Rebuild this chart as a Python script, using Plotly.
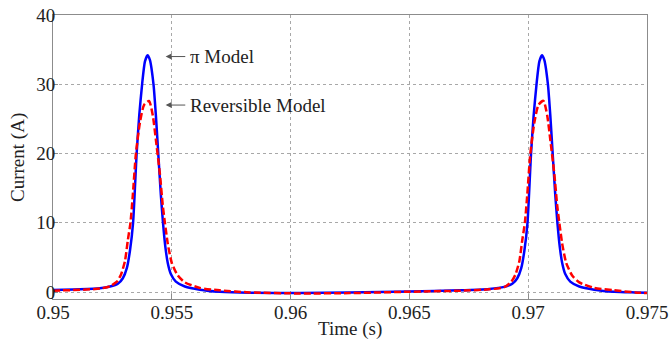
import plotly.graph_objects as go

# ---- data ----
t_pi = [0.95000, 0.95113, 0.95197, 0.95240, 0.95273, 0.95294, 0.95311, 0.95324, 0.95337, 0.95352,
        0.95363, 0.95375, 0.95387, 0.95398, 0.95408, 0.95423, 0.95433, 0.95443, 0.95454, 0.95463,
        0.95473, 0.95483, 0.95496, 0.95517, 0.95555, 0.95618, 0.95702, 0.95828, 0.96038, 0.96248,
        0.96500, 0.96710, 0.96836, 0.96899, 0.96933, 0.96954, 0.96971, 0.96984, 0.96997, 0.97012,
        0.97023, 0.97035, 0.97047, 0.97058, 0.97068, 0.97083, 0.97093, 0.97103, 0.97114, 0.97123,
        0.97133, 0.97143, 0.97156, 0.97177, 0.97215, 0.97278, 0.97362, 0.97450, 0.97500]
i_pi = [0.30, 0.40, 0.55, 0.80, 1.20, 2.0, 3.5, 6.0, 10.0, 20.0,
        25.5, 30.0, 33.3, 34.2, 33.5, 30.0, 25.5, 20.0, 14.0, 10.0,
        6.5, 4.2, 2.6, 1.5, 0.8, 0.35, 0.05, -0.10, -0.15, -0.05,
        0.10, 0.25, 0.45, 0.75, 1.20, 2.0, 3.5, 6.0, 10.0, 20.0,
        25.5, 30.0, 33.3, 34.2, 33.5, 30.0, 25.5, 20.0, 14.0, 10.0,
        6.5, 4.2, 2.6, 1.5, 0.8, 0.35, 0.05, -0.05, -0.10]

t_rev = [0.95000, 0.95197, 0.95240, 0.95269, 0.95286, 0.95303, 0.95315, 0.95326, 0.95336, 0.95349,
         0.95366, 0.95383, 0.95404, 0.95420, 0.95433, 0.95450, 0.95462, 0.95471, 0.95483, 0.95500,
         0.95525, 0.95555, 0.95618, 0.95702, 0.95828, 0.96038, 0.96248, 0.96500, 0.96710, 0.96836,
         0.96899, 0.96929, 0.96946, 0.96963, 0.96975, 0.96986, 0.96996, 0.97009, 0.97026, 0.97043,
         0.97064, 0.97080, 0.97093, 0.97110, 0.97122, 0.97131, 0.97143, 0.97160, 0.97185, 0.97215,
         0.97278, 0.97362, 0.97450, 0.97500]
i_rev = [0.20, 0.50, 0.85, 1.5, 2.5, 4.5, 7.5, 10.0, 14.0, 20.0,
         24.5, 27.0, 27.6, 25.5, 22.0, 17.0, 12.5, 10.0, 7.0, 4.2,
         2.4, 1.4, 0.6, 0.25, -0.05, -0.20, -0.15, 0.05, 0.20, 0.40,
         0.70, 1.5, 2.5, 4.5, 7.5, 10.0, 14.0, 20.0, 24.5, 27.0,
         27.6, 25.5, 22.0, 17.0, 12.5, 10.0, 7.0, 4.2, 2.4, 1.4,
         0.6, 0.25, -0.05, -0.15]

x_ticks = [0.95, 0.955, 0.96, 0.965, 0.97, 0.975]
x_tick_labels = ["0.95", "0.955", "0.96", "0.965", "0.97", "0.975"]
y_ticks = [0, 10, 20, 30, 40]

labels = ["\u03c0 Model", "Reversible Model"]
label_tips = [(0.95474, 34.0), (0.95474, 27.0)]
label_tails = [0.95563, 0.95563]

FONT = "Liberation Serif, Times New Roman, serif"
FS = 19
TXT = "#222222"

fig = go.Figure()
fig.add_trace(go.Scatter(x=t_pi, y=i_pi, mode="lines", name=labels[0],
                         line=dict(color="#0000FF", width=2.5, shape="spline", smoothing=0.6)))
fig.add_trace(go.Scatter(x=t_rev, y=i_rev, mode="lines", name=labels[1],
                         line=dict(color="#FF0000", width=2.5, dash="7px,3px", shape="spline", smoothing=0.6)))

for lab, (tx, ty), tail in zip(labels, label_tips, label_tails):
    fig.add_annotation(x=tx, y=ty, ax=tail, ay=ty, axref="x", ayref="y", xref="x", yref="y",
                       text="", showarrow=True, arrowhead=2, arrowsize=1.2, arrowwidth=1,
                       arrowcolor="#555555")
    fig.add_annotation(x=tail, y=ty, xref="x", yref="y", text=lab, showarrow=False,
                       xanchor="left", yanchor="middle", xshift=1,
                       font=dict(family=FONT, size=FS, color=TXT))

axis_common = dict(showline=True, linecolor="#8c8c8c", linewidth=1, mirror=True,
                   ticks="inside", ticklen=5, tickcolor="#8c8c8c",
                   showgrid=True, gridcolor="#a8a8a8", griddash="3px,3px", gridwidth=1,
                   zeroline=False, automargin=False,
                   tickfont=dict(family=FONT, size=FS, color=TXT))

fig.update_xaxes(range=[0.95, 0.975], tickvals=x_ticks, ticktext=x_tick_labels,
                 ticklabelstandoff=-4, **axis_common)
fig.update_yaxes(range=[-1, 40], tickvals=y_ticks, ticklabelstandoff=-7, **axis_common)

# axis titles
fig.add_annotation(x=0.5, y=-0.106, xref="paper", yref="paper", text="Time (s)", showarrow=False,
                   xanchor="center", yanchor="middle", font=dict(family=FONT, size=FS, color=TXT))
fig.add_annotation(x=-0.059, y=0.5, xref="paper", yref="paper", text="Current (A)", showarrow=False,
                   textangle=-90, xanchor="center", yanchor="middle",
                   font=dict(family=FONT, size=FS, color=TXT))

fig.update_layout(width=671, height=339, margin=dict(l=53, r=24, t=15, b=40),
                  paper_bgcolor="white", plot_bgcolor="white", showlegend=False)

fig.write_html("out.html")
